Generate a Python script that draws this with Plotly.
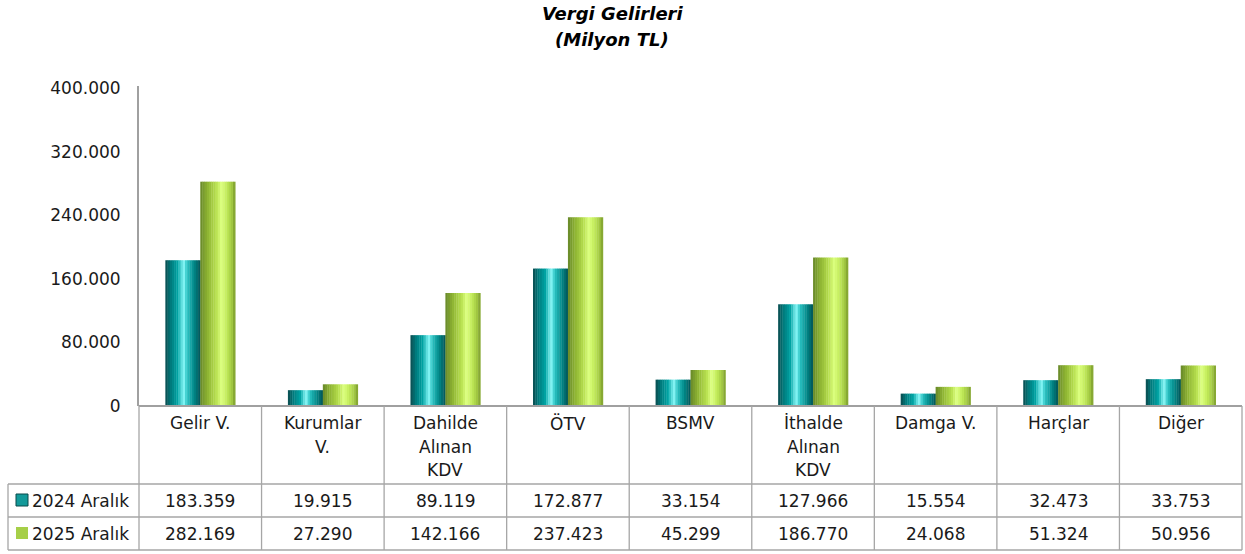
import plotly.graph_objects as go

categories = ["Gelir V.", "Kurumlar<br>V.", "Dahilde<br>Alınan<br>KDV", "ÖTV", "BSMV",
              "İthalde<br>Alınan<br>KDV", "Damga V.", "Harçlar", "Diğer"]
series_names = ["2024 Aralık", "2025 Aralık"]
values_2024 = [183359, 19915, 89119, 172877, 33154, 127966, 15554, 32473, 33753]
values_2025 = [282169, 27290, 142166, 237423, 45299, 186770, 24068, 51324, 50956]
y_ticks = [0, 80000, 160000, 240000, 320000, 400000]

FONT = "DejaVu Sans"
W, H = 1245, 554
L, R, T, B = 139, 1242, 86, 406


def px(p):
    return (p - L) / (R - L)


def py(p):
    return (B - p) / (B - T)


def fmt(v):
    return f"{v:,}".replace(",", ".")


def hex2rgb(h):
    h = h.lstrip("#")
    return [int(h[i:i + 2], 16) for i in (0, 2, 4)]


def interp(stops, f):
    for (f0, c0), (f1, c1) in zip(stops, stops[1:]):
        if f0 <= f <= f1:
            t = 0 if f1 == f0 else (f - f0) / (f1 - f0)
            a, b = hex2rgb(c0), hex2rgb(c1)
            return "rgb(%d,%d,%d)" % tuple(round(a[i] + (b[i] - a[i]) * t) for i in range(3))
    return stops[-1][1]


teal_stops = [(0, "#0b4a4d"), (0.15, "#007a7c"), (0.35, "#00a3a3"), (0.52, "#8af8f8"),
              (0.62, "#2cc4c4"), (0.82, "#008888"), (1, "#045356")]
green_stops = [(0, "#67872a"), (0.2, "#8db332"), (0.45, "#b6df4e"), (0.6, "#dcff80"),
               (0.75, "#c3ec5a"), (0.9, "#a2c942"), (1, "#7b9b2c")]

x = list(range(len(categories)))
bar_w = 0.285
N = 16
fig = go.Figure()
for vals, stops, off0 in [(values_2024, teal_stops, -bar_w), (values_2025, green_stops, 0.0)]:
    sw = bar_w / N
    for k in range(N):
        f = (k + 0.5) / N
        fig.add_trace(go.Bar(
            x=x, y=vals, width=sw * 1.15, offset=off0 + k * sw,
            marker=dict(color=interp(stops, f), line=dict(width=0)),
            hoverinfo="skip", showlegend=False))

fig.update_layout(
    barmode="overlay",
    width=W, height=H,
    margin=dict(l=L, r=W - R, t=T, b=H - B),
    plot_bgcolor="white", paper_bgcolor="white",
    font=dict(family=FONT, size=17, color="#1a1a1a"),
    xaxis=dict(range=[-0.5, len(categories) - 0.5], showticklabels=False, showgrid=False,
               zeroline=False, showline=False, fixedrange=True),
    yaxis=dict(range=[0, 400000 * 320 / 318], tickvals=y_ticks, ticktext=[fmt(v) for v in y_ticks],
               showgrid=False, zeroline=False, showline=True, linecolor="#a0a0a0", linewidth=2,
               ticks="", ticklabelstandoff=13, tickfont=dict(family=FONT, size=17, color="#1a1a1a")),
)

shapes = []
line = dict(color="#a6a6a6", width=1.3)
shapes.append(dict(type="line", xref="paper", yref="paper", x0=px(L), x1=px(R), y0=py(406), y1=py(406),
                   line=dict(color="#a0a0a0", width=2)))
for yy in (484, 517, 550):
    shapes.append(dict(type="line", xref="paper", yref="paper", x0=px(8), x1=px(R), y0=py(yy), y1=py(yy), line=line))
shapes.append(dict(type="line", xref="paper", yref="paper", x0=px(8), x1=px(8), y0=py(484), y1=py(550), line=line))
for i in range(len(categories) + 1):
    xv = px(L + i * (R - L) / len(categories))
    shapes.append(dict(type="line", xref="paper", yref="paper", x0=xv, x1=xv, y0=py(406), y1=py(550), line=line))
shapes.append(dict(type="rect", xref="paper", yref="paper", x0=px(16), x1=px(28), y0=py(506), y1=py(494),
                   fillcolor="#139a9a", line=dict(color="#0a4a4a", width=1)))
shapes.append(dict(type="rect", xref="paper", yref="paper", x0=px(16), x1=px(28), y0=py(539), y1=py(527),
                   fillcolor="#a6cf48", line=dict(width=0)))
fig.update_layout(shapes=shapes)

ann = []
for txt, yy in (("Vergi Gelirleri", 14), ("(Milyon TL)", 40)):
    ann.append(dict(text="<b><i>%s</i></b>" % txt, x=px(612), xref="paper", xanchor="center",
                    y=py(yy), yref="paper", yanchor="middle", showarrow=False,
                    font=dict(family="DejaVu Sans", size=18, color="#000")))
line_y = [423, 447, 470]
for i, c in enumerate(categories):
    for j, part in enumerate(c.split("<br>")):
        ann.append(dict(text=part, x=i, xref="x", xanchor="center", y=py(line_y[j]), yref="paper",
                        yanchor="middle", showarrow=False, font=dict(family=FONT, size=17, color="#1a1a1a")))
    for vals, yy in ((values_2024, 500.5), (values_2025, 533.5)):
        ann.append(dict(text=fmt(vals[i]), x=i, xref="x", xanchor="center", y=py(yy), yref="paper",
                        yanchor="middle", showarrow=False, font=dict(family=FONT, size=17, color="#1a1a1a")))
for name, yy in zip(series_names, (500.5, 533.5)):
    ann.append(dict(text=name, x=px(30), xref="paper", xanchor="left", y=py(yy), yref="paper",
                    yanchor="middle", showarrow=False, font=dict(family=FONT, size=17, color="#1a1a1a")))
fig.update_layout(annotations=ann)

fig.write_html("out.html", config={"displayModeBar": False},
               post_script="document.body.style.margin='0';document.body.style.padding='0';")
